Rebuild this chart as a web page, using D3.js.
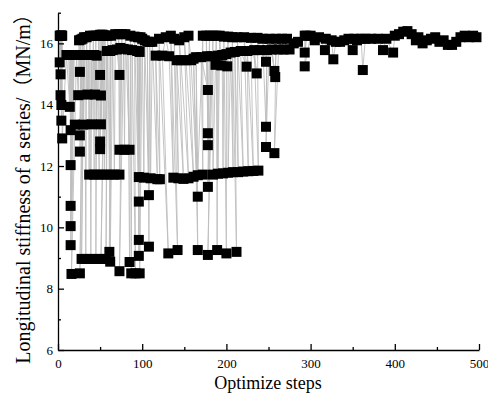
<!DOCTYPE html>
<html>
<head>
<meta charset="utf-8">
<script src="https://cdn.jsdelivr.net/npm/d3@7"></script>
<style>
  body { margin: 0; background: #fff; }
  svg { display: block; }
  .tick text { font-family: "Liberation Serif", "Times New Roman", serif; font-size: 13px; fill: #000; }
</style>
</head>
<body>
<svg id="chart" width="488" height="405"></svg>
<script>
// optimisation trace as [step, stiffness]
const traceEarly = [
  [2,16.25],[2,15.38],[3,16.25],[3,14.99],[3,16.25],[3,14.31],[4,16.25],[4,13.99],[4,16.25],[4,13.48],[5,16.25],[5,12.9],
  [10,15.62],[14,13.93],[13,15.62],[15,13.17],[15,15.62],[15,12.03],[16,15.62],[15,10.7],[17,15.62],[15,10.04],
  [18,15.62],[15,9.42],[19,15.62],[16,8.48],[20,13.35],[22,15.62],[24,14.31],[25,16.1],[26,15.07],[27,16.12],
  [26,13.0],[28,15.62],[26,12.47],[29,16.15],[26,8.5],[30,15.62],[28,8.97],[31,16.2],[30,13.35],[32,15.62],
  [33,8.97],[34,16.2],[35,14.33],[36,15.62],[37,11.72],[38,16.25],[39,8.97],[40,15.62],[40,13.36],[42,16.25],
  [43,11.72],[43,15.62],[44,14.33],[45,16.25],[45,8.97],[46,15.6],[49,11.72],[48,16.25],[50,14.97],[50,16.28],
  [50,12.8],[52,16.28],[50,12.55],[53,16.28],[51,14.3],[54,16.25],[51,13.36],[55,16.25],[51,8.97],[56,16.25],
  [55,11.72],[58,15.75],[57,8.97],[59,16.25],[61,11.72],[62,15.75],[61,9.2],[63,16.25],[62,8.88],[65,15.78],
  [67,11.72],[68,16.3],[70,15.8],[73,14.97],[72,16.3],[73,11.72],[74,15.85],[73,12.53],[76,16.3],[73,8.57],
  [78,15.82],[79,12.53],[80,16.3],[85,12.53],[83,15.8],[85,8.87],[86,16.25],[87,8.5],[88,15.78],[92,8.5],
  [91,16.22],[96,10.84],[94,15.75],[96,9.59],[95,16.2],[96,9.07],[97,15.72],[96,11.64],[98,16.2],[97,8.5]
];
const traceMid = [
  [100,16.15],[102,11.62],[103,16.1],[108,11.05],[106,16.05],[108,9.37],[109,16.05],[110,11.6],[112,16.05],
  [118,11.57],[116,15.6],[121,11.57],[120,16.15],[131,9.15],[124,15.6],[128,16.2],[132,15.58],[137,11.62],
  [134,16.25],[142,9.26],[138,16.15],[143,11.6],[141,15.45],[149,11.58],[144,16.1],[146,15.45],[155,11.6],
  [150,16.2],[152,15.45],[161,11.65],[155,16.25],[158,15.45],[166,11.0],[161,15.5],[166,9.26],[164,15.55],
  [166,11.7],[172,16.25],[172,11.72],[170,15.55],[178,14.48],[176,16.25],[178,13.07],[177,15.58],[178,12.68],
  [180,16.25],[178,11.32],[182,15.58],[178,9.1],[184,16.25],[184,11.72],[187,15.3],[188,16.25],[189,9.26],
  [190,15.6],[190,11.75],[192,16.25],[194,15.28],[195,15.62],[196,11.76],[197,16.22],[200,9.15],[200,15.65],
  [201,15.25],[202,16.22],[202,11.78],[205,15.7],[208,11.8],[207,16.2],[212,9.2],[210,15.72],[214,11.8],
  [213,16.2],[220,11.82],[217,15.75],[224,15.24],[221,16.2],[226,11.83],[225,15.75],[232,11.84],[229,16.18],
  [236,15.02],[233,15.78],[238,11.85],[237,16.18],[240,15.78],[247,15.4],[243,16.15],[247,13.28],[248,15.78],
  [247,12.62],[251,16.15],[257,15.1],[254,15.8],[258,14.9],[259,16.15],[257,12.42],[262,15.8],[266,16.15],
  [268,15.8],[272,16.15]
];
const traceLate = [
  [275,15.8],[280,16.0],[285,16.05],[293,16.25],[293,15.7],[295,16.25],[293,15.25],[300,16.25],[305,16.1],
  [310,16.2],[317,15.78],[318,16.15],[325,16.1],[327,15.48],[330,16.05],[335,16.05],[340,16.1],[345,16.15],
  [350,15.78],[352,16.15],[355,16.1],[360,16.15],[362,15.13],[365,16.15],[372,16.15],[380,16.15],[386,15.78],
  [390,16.15],[398,15.7],[400,16.25],[405,16.3],[410,16.38],[415,16.4],[420,16.3],[425,16.1],[428,16.2],
  [433,16.0],[438,16.1],[443,16.15],[448,16.2],[453,16.05],[458,16.1],[463,15.95],[468,15.95],[473,16.05],
  [478,16.2],[483,16.25],[488,16.2],[493,16.25],[497,16.2]
];
const xMajor = [0, 100, 200, 300, 400, 500];
const xMinor = [50, 150, 250, 350, 450];
const yMajor = [6, 8, 10, 12, 14, 16];
const yMinor = [7, 9, 11, 13, 15, 17];

const trace = traceEarly.concat(traceMid, traceLate);

const svg = d3.select('#chart');
const x = d3.scaleLinear().domain([0, 500]).range([58, 479]);
const y = d3.scaleLinear().domain([6, 17]).range([350, 12.7]);

// connecting line under the markers
svg.append('path')
  .datum(trace)
  .attr('fill', 'none')
  .attr('stroke', '#bdbdbd')
  .attr('stroke-width', 0.9)
  .attr('d', d3.line().x(d => x(d[0])).y(d => y(d[1])));

svg.append('g')
  .selectAll('path')
  .data(trace)
  .enter().append('path')
  .attr('transform', d => `translate(${x(d[0])},${y(d[1])})`)
  .attr('d', d3.symbol().type(d3.symbolSquare).size(100))
  .attr('fill', '#000');

// axes, ticks point inwards
const gx = svg.append('g').attr('transform', 'translate(0,350)');
gx.call(d3.axisBottom(x).tickValues(xMajor).tickSize(-6).tickSizeOuter(0).tickPadding(9).tickFormat(d3.format('d')));
gx.append('g').call(d3.axisBottom(x).tickValues(xMinor).tickSize(-3).tickFormat(''))
  .select('.domain').remove();

const gy = svg.append('g').attr('transform', 'translate(58,0)');
gy.call(d3.axisLeft(y).tickValues(yMajor).tickSize(-6).tickSizeOuter(0).tickPadding(5).tickFormat(d3.format('d')));
gy.append('g').call(d3.axisLeft(y).tickValues(yMinor).tickSize(-3).tickFormat(''))
  .select('.domain').remove();

svg.selectAll('.domain, .tick line').attr('stroke', '#000').attr('stroke-width', 1.3);

svg.append('text')
  .attr('x', 268).attr('y', 389)
  .attr('text-anchor', 'middle')
  .style('font-family', '"Liberation Serif", "Times New Roman", serif')
  .style('font-size', '18px')
  .text('Optimize steps');

const ylab = svg.append('text')
  .attr('transform', 'translate(30,184) rotate(-90)')
  .attr('text-anchor', 'middle')
  .style('font-family', '"Liberation Serif", "Times New Roman", serif')
  .style('font-size', '20px');
ylab.append('tspan').text('Longitudinal stiffness of a series/');
ylab.append('tspan').style('font-family', '"Noto Sans CJK SC"').text('（');
ylab.append('tspan').text('MN/m');
ylab.append('tspan').style('font-family', '"Noto Sans CJK SC"').text('）');
</script>
</body>
</html>
